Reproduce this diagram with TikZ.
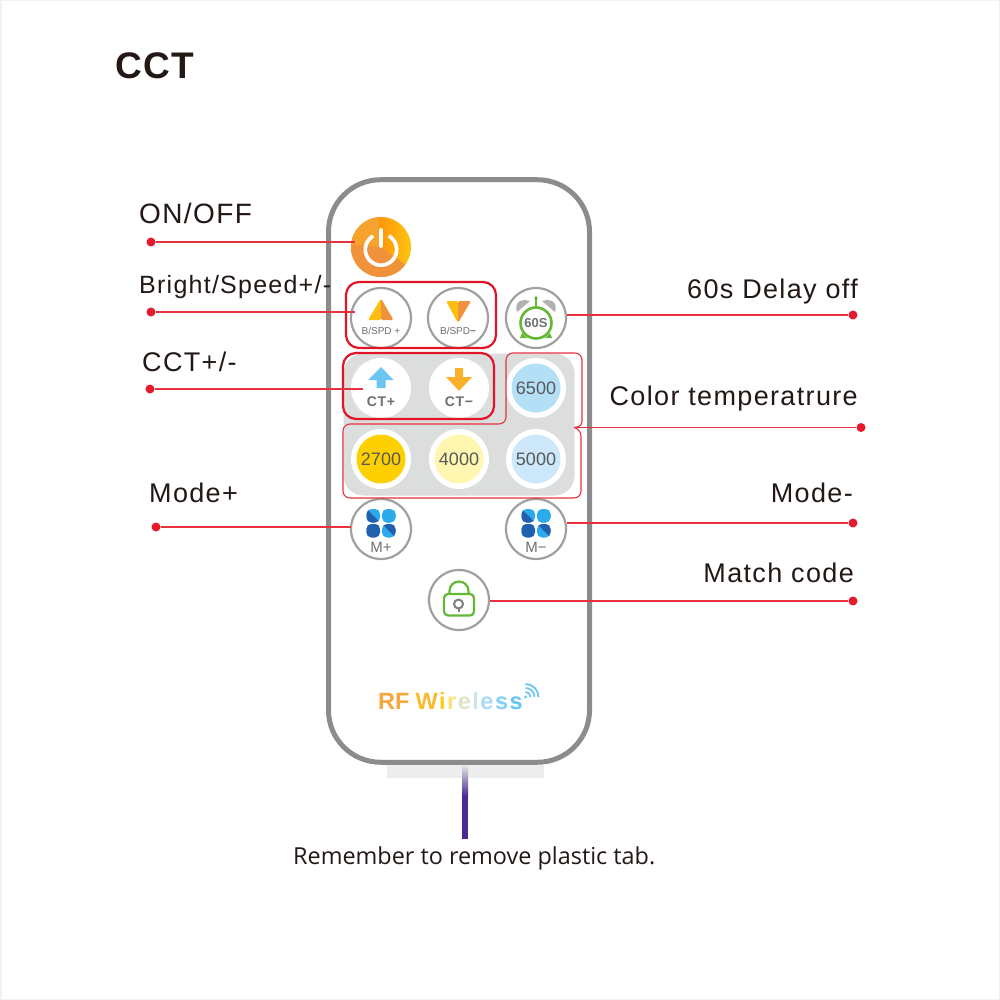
\documentclass[tikz,border=0pt]{standalone}
\usepackage{fontspec}
\usepackage{xcolor}
\usetikzlibrary{calc}
\setmainfont{Liberation Sans}
\newfontfamily\labelfont[LetterSpace=5]{Liberation Sans}
\newfontfamily\titlefont[LetterSpace=4]{Liberation Sans}
\newfontfamily\notefont{Open Sans}
\definecolor{bodygrey}{RGB}{140,140,140}
\definecolor{ringgrey}{RGB}{160,160,160}
\definecolor{panelgrey}{RGB}{220,221,221}
\definecolor{labelink}{RGB}{35,24,21}
\definecolor{capgrey}{RGB}{110,111,114}
\definecolor{numgrey}{RGB}{88,89,91}
\definecolor{leadred}{RGB}{232,50,62}
\definecolor{dotred}{RGB}{230,25,45}
\definecolor{boxred}{RGB}{226,20,40}
\definecolor{okgreen}{RGB}{100,184,55}
\definecolor{amber}{RGB}{253,190,20}
\definecolor{tangerine}{RGB}{240,145,60}
\definecolor{skyblue}{RGB}{108,197,245}
\definecolor{arrowamber}{RGB}{251,176,42}
\definecolor{cloverdark}{RGB}{33,95,175}
\definecolor{cloverlight}{RGB}{45,170,235}
\definecolor{tabpurple}{RGB}{75,42,150}
\newcommand{\fsz}[1]{\fontsize{#1}{#1}\selectfont}
% one brand letter with its colour and the gap after it
\newcommand{\rfl}[2]{\textcolor[RGB]{#1}{#2}\kern1.5pt}
% one leaf of the mode icon: centre corner, x and y direction, two colours
\newcommand{\cloverleaf}[6]{%
  \fill[#5, rounded corners=5] (#1,#2) -- ++(#3*13.5,0) -- ++(0,#4*13.5) -- ++(-#3*13.5,0) -- cycle;
  \begin{scope}
    \clip[rounded corners=5] (#1,#2) -- ++(#3*13.5,0) -- ++(0,#4*13.5) -- ++(-#3*13.5,0) -- cycle;
    \fill[#6] (#1,#2) -- ++(#3*15,#4*15) -- ++(#3*15,0) -- ++(0,-#4*15) -- cycle;
  \end{scope}}
\newcommand{\clovericon}[2]{%
  \cloverleaf{#1-1}{#2-0.5}{-1}{-1}{cloverlight}{cloverdark}
  \cloverleaf{#1+1}{#2-0.5}{1}{-1}{cloverlight}{cloverlight}
  \cloverleaf{#1-1}{#2+1}{-1}{1}{cloverdark}{cloverdark}
  \cloverleaf{#1+1}{#2+1}{1}{1}{cloverlight}{cloverdark}}

\begin{document}
\begin{tikzpicture}[
  x=1pt, y=-1pt,
  body/.style={draw=bodygrey, line width=5, rounded corners=52, fill=white},
  btn/.style={circle, draw=ringgrey, line width=2.2, fill=white, minimum size=60, inner sep=0},
  wbtn/.style={circle, fill=white, minimum size=60, inner sep=0},
  num/.style={circle, minimum size=49, inner sep=0, text=numgrey, font=\fsz{18}},
  redbox/.style={draw=boxred, line width=2.2, rounded corners=13, inner sep=0},
  lead/.style={draw=leadred, line width=1.3},
  dot/.style={circle, fill=dotred, minimum size=9, inner sep=0},
  lbl/.style={inner sep=0, text=labelink, font=\labelfont\fsz{27}},
  captxt/.style={inner sep=0, text=capgrey, font=\fsz{10}}
]
\useasboundingbox (0,0) rectangle (1000,1000);
\fill[white] (0,0) rectangle (1000,1000);
\draw[black!5, line width=1.5] (0.75,0.75) rectangle (999.25,999.25);

% tab below the remote
\node[fill=black!7, minimum width=157, minimum height=13, inner sep=0] (tabshadow) at (465.5,771.5) {};
\node[top color=black!12, bottom color=tabpurple, minimum width=6, minimum height=30, inner sep=0] (tabfade) at (465,781) {};
\node[fill=tabpurple, minimum width=6, minimum height=43, inner sep=0] (tabstem) at (465,817) {};

% remote
\node[body, minimum width=261, minimum height=582.5, inner sep=0] (remote) at (459,471) {};
\node[fill=panelgrey, rounded corners=20, minimum width=231, minimum height=142, inner sep=0] (panel) at (459,424.5) {};

% buttons
\node[circle, left color=orange!85!red, right color=amber!90!yellow, minimum size=60, inner sep=0] (power) at (381,247) {};
\fill[tangerine] (power.center) -- ++(36:30) arc[start angle=36, end angle=190, radius=30] -- cycle;
\fill[tangerine!60!amber] (power.center) -- ++(185:30) arc[start angle=185, end angle=265, radius=30] -- cycle;
\coordinate (powerring) at (381,249.5);
\draw[white, line width=3.7] (powerring) ++(300:15.7) arc[start angle=300, end angle=600, radius=15.7];
\draw[white, line width=3.7, line cap=round] (381,230) -- (381,246);

\node[btn] (bplus) at (381,318) {};
\node[btn] (bminus) at (458,318) {};
\node[btn] (delay) at (536,318) {};
\node[wbtn] (ctplus) at (381,388) {};
\node[wbtn] (ctminus) at (459,388) {};
\node[wbtn] (w6500) at (536,388) {};
\node[wbtn] (w2700) at (381,459) {};
\node[wbtn] (w4000) at (459,459) {};
\node[wbtn] (w5000) at (536,459) {};
\node[num, fill={rgb,255:red,179;green,224;blue,247}] (n6500) at (536,388) {6500};
\node[num, fill={rgb,255:red,255;green,208;blue,0}] (n2700) at (381,459) {2700};
\node[num, fill={rgb,255:red,255;green,247;blue,176}] (n4000) at (459,459) {4000};
\node[num, fill={rgb,255:red,204;green,232;blue,250}] (n5000) at (536,459) {5000};
\node[btn] (mplus) at (381,529) {};
\node[btn] (mminus) at (536,529) {};
\node[btn] (lock) at (459,600) {};

% button icons
\fill[tangerine, rounded corners=1.5] (381,298.5) -- (393.5,320) -- (381,320) -- cycle;
\fill[amber, rounded corners=1.5] (381,298.5) -- (368,320) -- (381,320) -- cycle;
\fill[tangerine, rounded corners=1.5] (458,301) -- (471,301) -- (458,323) -- cycle;
\fill[amber, rounded corners=1.5] (458,301) -- (446,301) -- (458,323) -- cycle;
\node[captxt] (capbplus) at (381,331) {B/SPD +};
\node[captxt] (capbminus) at (458,331) {B/SPD\textbf{−}};

\fill[black!30] (517,312) .. controls (514,303) and (520,298) .. (530,301) -- cycle;
\fill[black!30] (555,312) .. controls (558,303) and (552,298) .. (542,301) -- cycle;
\draw[okgreen, line width=1.6] (536,298) -- (536,307);
\fill[okgreen] (536,298) circle[radius=1.8];
\fill[okgreen] (520,338) -- (527,338) -- (522,333) -- cycle;
\fill[okgreen] (552,338) -- (545,338) -- (550,333) -- cycle;
\node[circle, draw=okgreen, line width=2.6, fill=white, minimum size=31, inner sep=0, text=capgrey, font=\bfseries\fsz{13}] (clock) at (536,323) {60S};

\fill[skyblue] (381,367) -- (393.5,380) -- (385.5,380) -- (385.5,388) -- (376.5,388) -- (376.5,380) -- (368,380) -- cycle;
\fill[arrowamber] (455,368) -- (463,368) -- (463,377) -- (472,377) -- (459,391) -- (446,377) -- (455,377) -- cycle;
\node[captxt, font=\bfseries\labelfont\fsz{14}] (capctplus) at (381,402) {CT+};
\node[captxt, font=\bfseries\labelfont\fsz{14}] (capctminus) at (459,402) {CT−};

\clovericon{381}{523}
\clovericon{536}{523}
\node[captxt, font=\fsz{15}] (capmplus) at (381,547) {M+};
\node[captxt, font=\fsz{15}] (capmminus) at (536,547) {M−};

\draw[okgreen, line width=2.2, rounded corners=4] (444,594) rectangle (474,615.5);
\draw[okgreen, line width=2.2] (449.5,594) -- (449.5,591) arc[start angle=180, end angle=360, radius=9.5] -- (468.5,594);
\draw[black!50, line width=2] (458.5,604) circle[radius=4.5];
\draw[black!50, line width=2] (458.5,608.5) -- (458.5,612);

% red frames
\node[redbox, minimum width=150, minimum height=66] (brightbox) at (421,315) {};
\node[redbox, minimum width=151, minimum height=66] (cctbox) at (418.5,386) {};
\coordinate (tempnotch) at (574,427.5);
\draw[leadred, line width=1.1, rounded corners=7] (tempnotch) [rounded corners=4] -- (582,426) [rounded corners=7] -- (582,353) -- (506,353) -- (506,424) -- (343,424) -- (343,498) -- (581,498) -- (581,429) [rounded corners=0] -- (tempnotch);

% leaders
\node[dot] (dotpower) at (151,242) {};
\node[dot] (dotbright) at (151,312) {};
\node[dot] (dotcct) at (150,389) {};
\node[dot] (dotmplus) at (156,527) {};
\node[dot] (dotdelay) at (853,315) {};
\node[dot] (dottemp) at (861,427.5) {};
\node[dot] (dotmminus) at (853,523) {};
\node[dot] (dotlock) at (853,601) {};
\coordinate (endpower) at (355,242);
\coordinate (endbright) at (355,312);
\coordinate (endcct) at (363,389);
\coordinate (endmplus) at (351,527);
\coordinate (enddelay) at (567,315);
\coordinate (endmminus) at (567,523);
\coordinate (endlock) at (490,601);
\draw[lead] (dotpower) -- (endpower);
\draw[lead] (dotbright) -- (endbright);
\draw[lead] (dotcct) -- (endcct);
\draw[lead] (dotmplus) -- (endmplus);
\draw[lead] (dotdelay) -- (enddelay);
\draw[lead] (dottemp) -- (tempnotch);
\draw[lead] (dotmminus) -- (endmminus);
\draw[lead] (dotlock) -- (endlock);

% labels
\node[inner sep=0, anchor=base west, text=labelink, font=\bfseries\titlefont\fsz{37}] (title) at (115,79) {CCT};
\node[lbl, anchor=base west, font=\labelfont\fsz{28}] (lonoff) at (139,224) {ON/OFF};
\node[lbl, anchor=base west, font=\labelfont\fsz{25}] (lbright) at (139,293) {Bright/Speed+/-};
\node[lbl, anchor=base west] (lcct) at (142,371) {CCT+/-};
\node[lbl, anchor=base west] (lmplus) at (149,502) {Mode+};
\node[lbl, anchor=base east] (ldelay) at (858,298) {60s Delay off};
\node[lbl, anchor=base east] (ltemp) at (858,405) {Color temperatrure};
\node[lbl, anchor=base east] (lmminus) at (853,502) {Mode-};
\node[lbl, anchor=base east] (llock) at (854,582) {Match code};
\node[inner sep=0, anchor=base west, text=labelink, font=\notefont\fsz{23.4}] (lnote) at (293,864) {Remember to remove plastic tab.};

% brand
\node[inner sep=0, anchor=base west, font=\bfseries\fsz{23.5}] (brand) at (378,709) {\textcolor[RGB]{247,166,60}{RF}\hspace{6pt}\rfl{251,186,45}{W}\rfl{255,205,25}{i}\rfl{250,225,120}{r}\rfl{222,230,200}{e}\rfl{205,228,235}{l}\rfl{170,218,245}{e}\rfl{130,208,248}{s}\textcolor[RGB]{100,198,248}{s}};
\coordinate (wifi) at (525.5,697);
\fill[skyblue] (wifi) circle[radius=1.7];
\foreach \r in {5,9,13} {
  \draw[skyblue, line width=1.8] ($(wifi)+(-90:\r)$) arc[start angle=-90, end angle=0, radius=\r];
}
\end{tikzpicture}
\end{document}
